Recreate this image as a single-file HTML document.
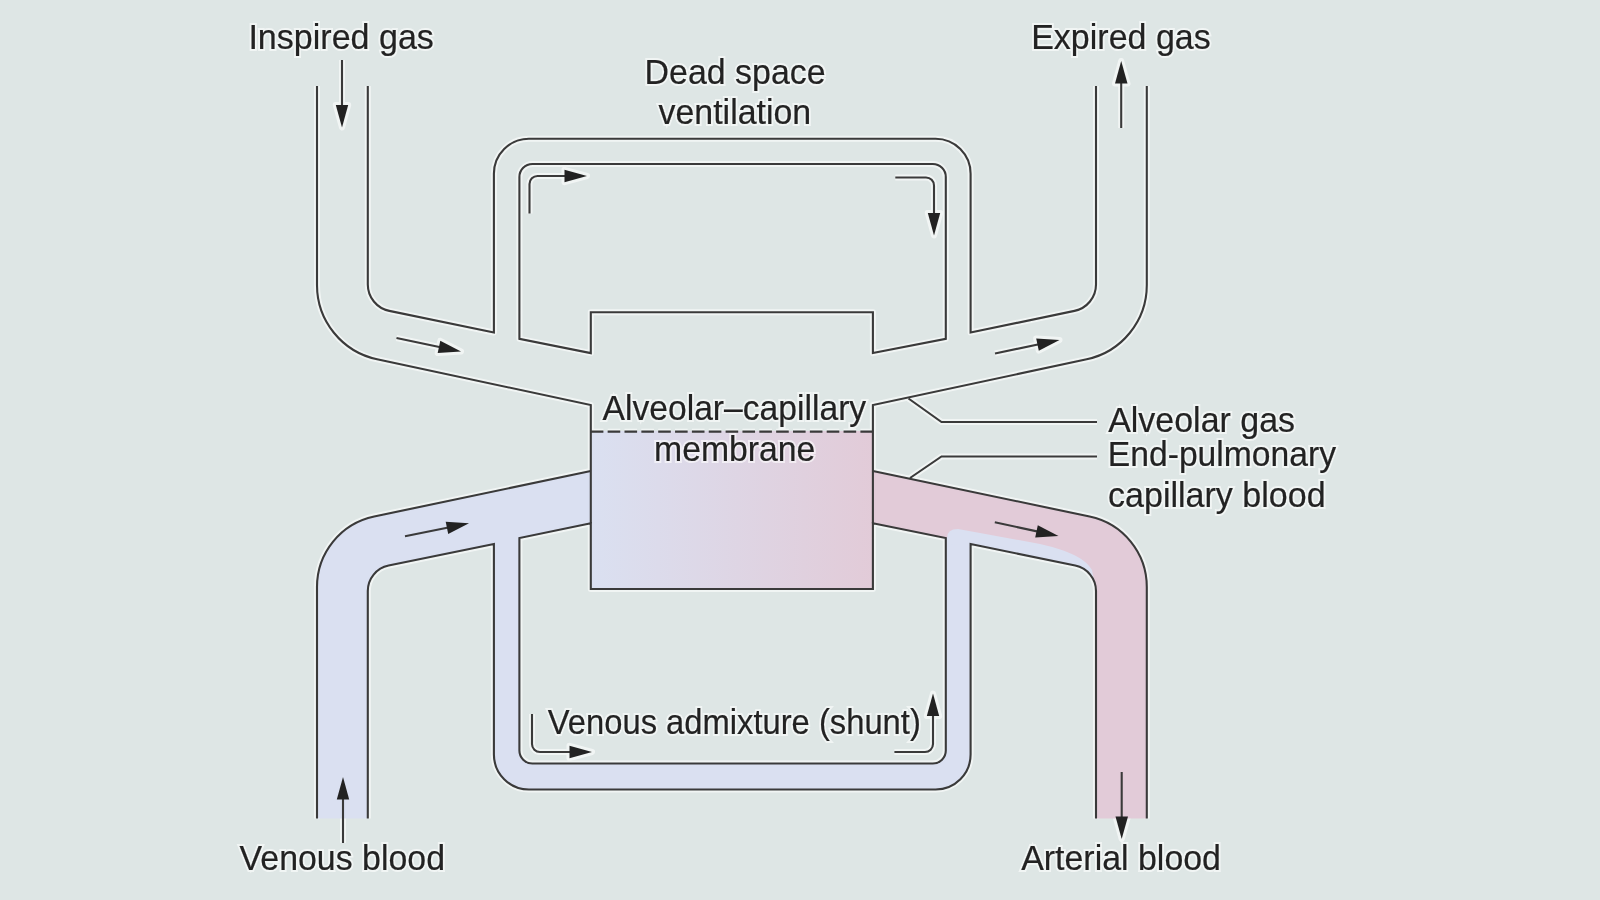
<!DOCTYPE html>
<html><head><meta charset="utf-8"><style>
html,body{margin:0;padding:0;background:#dee6e5;width:1600px;height:900px;overflow:hidden}
svg{display:block}
.halo{opacity:0.6} .halo path{stroke:#fff;stroke-width:6px;stroke-linejoin:round}
.th{opacity:0.6} .th text{stroke:#fff;stroke-width:4px}
text{font-family:"Liberation Sans",sans-serif;fill:#222;stroke:#222;stroke-width:0.2px}
</style></head><body>
<svg style="will-change:transform" width="1600" height="900" viewBox="0 0 1600 900">
<rect width="1600" height="900" fill="#dee6e5"/>
<g class="halo"><path d="M317.0,86 V285.0 A76.0 76.0 0 0 0 377.1,359.3 L590.8,405.0 V471" fill="none" stroke="#3a3a3a" stroke-width="2.1" stroke-linejoin="miter"/>
<path d="M1146.8,86 V285.0 A76.0 76.0 0 0 1 1086.7,359.3 L872.9,405.0 V471" fill="none" stroke="#3a3a3a" stroke-width="2.1" stroke-linejoin="miter"/>
<path d="M367.8,86 V284.5 A27.0 27.0 0 0 0 389.3,310.9 L493.9,332.5 V173.8 A35.0 35.0 0 0 1 528.9,138.8 H935.6 A35.0 35.0 0 0 1 970.6,173.8 V332.5 L1074.5,310.9 A27.0 27.0 0 0 0 1096.0,284.5 V86" fill="none" stroke="#3a3a3a" stroke-width="2.1" stroke-linejoin="miter"/>
<path d="M519.4,338.9 V177.0 A13.0 13.0 0 0 1 532.4,164.0 H932.8 A13.0 13.0 0 0 1 945.8,177.0 V338.9 L872.9,353.1 V312.3 H590.8 V353.1 Z" fill="none" stroke="#3a3a3a" stroke-width="2.1" stroke-linejoin="miter"/>
<path d="M317.0,818.5 V587.0 A72.0 72.0 0 0 1 374.2,516.5 L590.8,471.0" fill="none" stroke="#3a3a3a" stroke-width="2.1" stroke-linejoin="miter"/>
<path d="M1146.8,818.5 V587.0 A72.0 72.0 0 0 0 1089.6,516.5 L872.9,471.0" fill="none" stroke="#3a3a3a" stroke-width="2.1" stroke-linejoin="miter"/>
<path d="M367.8,818.5 V591.0 A26.0 26.0 0 0 1 388.6,565.5 L493.9,544.0 V754.5 A35.0 35.0 0 0 0 528.9,789.5 H935.6 A35.0 35.0 0 0 0 970.6,754.5 V544 L1075.2,565.5 A26.0 26.0 0 0 1 1096.0,591.0 V818.5" fill="none" stroke="#3a3a3a" stroke-width="2.1" stroke-linejoin="miter"/>
<path d="M519.4,538.0 V750.5 A13.0 13.0 0 0 0 532.4,763.5 H932.8 A13.0 13.0 0 0 0 945.8,750.5 V538.0 L872.9,523.3 V589.0 H590.8 V523.3 Z" fill="none" stroke="#3a3a3a" stroke-width="2.1" stroke-linejoin="miter"/>
<path d="M590.8,523.3 V471" fill="none" stroke="#3a3a3a" stroke-width="2.1" stroke-linejoin="miter"/>
<path d="M872.9,523.3 V471" fill="none" stroke="#3a3a3a" stroke-width="2.1" stroke-linejoin="miter"/>
<path d="M590.8,431.7 H872.9" stroke="#3a3a3a" stroke-width="2.2" stroke-dasharray="12.6,4.25"/>
<path d="M908.5,398.5 L941.5,422 H1097" fill="none" stroke="#3a3a3a" stroke-width="2.1" stroke-linejoin="miter"/>
<path d="M910,478 L941.5,456.5 H1097" fill="none" stroke="#3a3a3a" stroke-width="2.1" stroke-linejoin="miter"/>
<path d="M342,60 L342.0,109.0" stroke="#3a3a3a" stroke-width="2.1" fill="none"/><path d="M342.0,127.5 L335.8,105.0 L348.2,105.0 Z" fill="#222"/>
<path d="M1121.2,128 L1121.2,79.5" stroke="#3a3a3a" stroke-width="2.1" fill="none"/><path d="M1121.2,61.0 L1127.5,83.5 L1115.0,83.5 Z" fill="#222"/>
<path d="M343,843 L343.0,795.5" stroke="#3a3a3a" stroke-width="2.1" fill="none"/><path d="M343.0,777.0 L349.2,799.5 L336.8,799.5 Z" fill="#222"/>
<path d="M1121.7,772 L1121.7,820.5" stroke="#3a3a3a" stroke-width="2.1" fill="none"/><path d="M1121.7,839.0 L1115.5,816.5 L1128.0,816.5 Z" fill="#222"/>
<path d="M396.5,338 L442.9,347.7" stroke="#3a3a3a" stroke-width="2.1" fill="none"/><path d="M461.0,351.5 L437.7,353.0 L440.3,340.8 Z" fill="#222"/>
<path d="M995,353.5 L1041.4,343.8" stroke="#3a3a3a" stroke-width="2.1" fill="none"/><path d="M1059.5,340.0 L1038.8,350.7 L1036.2,338.5 Z" fill="#222"/>
<path d="M405,536.3 L450.9,527.0" stroke="#3a3a3a" stroke-width="2.1" fill="none"/><path d="M469.0,523.3 L448.2,533.9 L445.7,521.7 Z" fill="#222"/>
<path d="M994.8,522.3 L1040.4,532.1" stroke="#3a3a3a" stroke-width="2.1" fill="none"/><path d="M1058.5,536.0 L1035.2,537.4 L1037.8,525.2 Z" fill="#222"/>
<path d="M529.5,213.6 V184 A8 8 0 0 1 537.5,176 H570" fill="none" stroke="#3a3a3a" stroke-width="2.1"/>
<path d="M587.0,176.0 L564.5,182.2 L564.5,169.8 Z" fill="#222"/>
<path d="M895.3,177.5 H926 A8 8 0 0 1 934,185.5 V218" fill="none" stroke="#3a3a3a" stroke-width="2.1"/>
<path d="M934.0,235.4 L927.8,212.9 L940.2,212.9 Z" fill="#222"/>
<path d="M532,714 V744 A8 8 0 0 0 540,752 H575" fill="none" stroke="#3a3a3a" stroke-width="2.1"/>
<path d="M592.0,752.0 L569.5,758.2 L569.5,745.8 Z" fill="#222"/>
<path d="M894.4,752 H925 A8 8 0 0 0 933,744 V711" fill="none" stroke="#3a3a3a" stroke-width="2.1"/>
<path d="M933.0,693.6 L939.2,716.1 L926.8,716.1 Z" fill="#222"/></g>
<path d="M317.0,818.5 V587.0 A72.0 72.0 0 0 1 374.2,516.5 L590.8,471.0 V523.3 L519.4,538.0 V750.5 A13.0 13.0 0 0 0 532.4,763.5 H932.8 A13.0 13.0 0 0 0 945.8,750.5 V538.0 L970.6,544 V754.5 A35.0 35.0 0 0 1 935.6,789.5 H528.9 A35.0 35.0 0 0 1 493.9,754.5 V544.0 L388.6,565.5 A26.0 26.0 0 0 0 367.8,591.0 V818.5 Z" fill="#dae0f1"/>
<path d="M872.9,471 L1089.6,516.5 A72.0 72.0 0 0 1 1146.8,587.0 V818.5 H1096.0 V591.0 A26.0 26.0 0 0 0 1075.2,565.5 L970.6,544 L945.8,538.0 L872.9,523.3 Z" fill="#e2cbd8"/>
<path d="M947,545 V538 Q947,529 958,529 L980,533 L1040,544 C1062,549 1084,556 1092,570 L1096.0,591.0 A26.0 26.0 0 0 0 1075.2,565.5 L970.6,544 Z" fill="#dae0f1"/>
<defs><linearGradient id="g" x1="0" y1="0" x2="1" y2="0"><stop offset="0" stop-color="#dae0f1"/><stop offset="1" stop-color="#e2cbd8"/></linearGradient></defs>
<rect x="590.8" y="431" width="282.1" height="158.0" fill="url(#g)"/>
<path d="M317.0,86 V285.0 A76.0 76.0 0 0 0 377.1,359.3 L590.8,405.0 V471" fill="none" stroke="#3a3a3a" stroke-width="2.1" stroke-linejoin="miter"/>
<path d="M1146.8,86 V285.0 A76.0 76.0 0 0 1 1086.7,359.3 L872.9,405.0 V471" fill="none" stroke="#3a3a3a" stroke-width="2.1" stroke-linejoin="miter"/>
<path d="M367.8,86 V284.5 A27.0 27.0 0 0 0 389.3,310.9 L493.9,332.5 V173.8 A35.0 35.0 0 0 1 528.9,138.8 H935.6 A35.0 35.0 0 0 1 970.6,173.8 V332.5 L1074.5,310.9 A27.0 27.0 0 0 0 1096.0,284.5 V86" fill="none" stroke="#3a3a3a" stroke-width="2.1" stroke-linejoin="miter"/>
<path d="M519.4,338.9 V177.0 A13.0 13.0 0 0 1 532.4,164.0 H932.8 A13.0 13.0 0 0 1 945.8,177.0 V338.9 L872.9,353.1 V312.3 H590.8 V353.1 Z" fill="none" stroke="#3a3a3a" stroke-width="2.1" stroke-linejoin="miter"/>
<path d="M317.0,818.5 V587.0 A72.0 72.0 0 0 1 374.2,516.5 L590.8,471.0" fill="none" stroke="#3a3a3a" stroke-width="2.1" stroke-linejoin="miter"/>
<path d="M1146.8,818.5 V587.0 A72.0 72.0 0 0 0 1089.6,516.5 L872.9,471.0" fill="none" stroke="#3a3a3a" stroke-width="2.1" stroke-linejoin="miter"/>
<path d="M367.8,818.5 V591.0 A26.0 26.0 0 0 1 388.6,565.5 L493.9,544.0 V754.5 A35.0 35.0 0 0 0 528.9,789.5 H935.6 A35.0 35.0 0 0 0 970.6,754.5 V544 L1075.2,565.5 A26.0 26.0 0 0 1 1096.0,591.0 V818.5" fill="none" stroke="#3a3a3a" stroke-width="2.1" stroke-linejoin="miter"/>
<path d="M519.4,538.0 V750.5 A13.0 13.0 0 0 0 532.4,763.5 H932.8 A13.0 13.0 0 0 0 945.8,750.5 V538.0 L872.9,523.3 V589.0 H590.8 V523.3 Z" fill="none" stroke="#3a3a3a" stroke-width="2.1" stroke-linejoin="miter"/>
<path d="M590.8,523.3 V471" fill="none" stroke="#3a3a3a" stroke-width="2.1" stroke-linejoin="miter"/>
<path d="M872.9,523.3 V471" fill="none" stroke="#3a3a3a" stroke-width="2.1" stroke-linejoin="miter"/>
<path d="M590.8,431.7 H872.9" stroke="#3a3a3a" stroke-width="2.2" stroke-dasharray="12.6,4.25"/>
<path d="M908.5,398.5 L941.5,422 H1097" fill="none" stroke="#3a3a3a" stroke-width="2.1" stroke-linejoin="miter"/>
<path d="M910,478 L941.5,456.5 H1097" fill="none" stroke="#3a3a3a" stroke-width="2.1" stroke-linejoin="miter"/>
<path d="M342,60 L342.0,109.0" stroke="#3a3a3a" stroke-width="2.1" fill="none"/><path d="M342.0,127.5 L335.8,105.0 L348.2,105.0 Z" fill="#222"/>
<path d="M1121.2,128 L1121.2,79.5" stroke="#3a3a3a" stroke-width="2.1" fill="none"/><path d="M1121.2,61.0 L1127.5,83.5 L1115.0,83.5 Z" fill="#222"/>
<path d="M343,843 L343.0,795.5" stroke="#3a3a3a" stroke-width="2.1" fill="none"/><path d="M343.0,777.0 L349.2,799.5 L336.8,799.5 Z" fill="#222"/>
<path d="M1121.7,772 L1121.7,820.5" stroke="#3a3a3a" stroke-width="2.1" fill="none"/><path d="M1121.7,839.0 L1115.5,816.5 L1128.0,816.5 Z" fill="#222"/>
<path d="M396.5,338 L442.9,347.7" stroke="#3a3a3a" stroke-width="2.1" fill="none"/><path d="M461.0,351.5 L437.7,353.0 L440.3,340.8 Z" fill="#222"/>
<path d="M995,353.5 L1041.4,343.8" stroke="#3a3a3a" stroke-width="2.1" fill="none"/><path d="M1059.5,340.0 L1038.8,350.7 L1036.2,338.5 Z" fill="#222"/>
<path d="M405,536.3 L450.9,527.0" stroke="#3a3a3a" stroke-width="2.1" fill="none"/><path d="M469.0,523.3 L448.2,533.9 L445.7,521.7 Z" fill="#222"/>
<path d="M994.8,522.3 L1040.4,532.1" stroke="#3a3a3a" stroke-width="2.1" fill="none"/><path d="M1058.5,536.0 L1035.2,537.4 L1037.8,525.2 Z" fill="#222"/>
<path d="M529.5,213.6 V184 A8 8 0 0 1 537.5,176 H570" fill="none" stroke="#3a3a3a" stroke-width="2.1"/>
<path d="M587.0,176.0 L564.5,182.2 L564.5,169.8 Z" fill="#222"/>
<path d="M895.3,177.5 H926 A8 8 0 0 1 934,185.5 V218" fill="none" stroke="#3a3a3a" stroke-width="2.1"/>
<path d="M934.0,235.4 L927.8,212.9 L940.2,212.9 Z" fill="#222"/>
<path d="M532,714 V744 A8 8 0 0 0 540,752 H575" fill="none" stroke="#3a3a3a" stroke-width="2.1"/>
<path d="M592.0,752.0 L569.5,758.2 L569.5,745.8 Z" fill="#222"/>
<path d="M894.4,752 H925 A8 8 0 0 0 933,744 V711" fill="none" stroke="#3a3a3a" stroke-width="2.1"/>
<path d="M933.0,693.6 L939.2,716.1 L926.8,716.1 Z" fill="#222"/>
<g class="th"><text x="248.4" y="48.9" font-size="35" textLength="185.5" lengthAdjust="spacingAndGlyphs">Inspired gas</text>
<text x="1031.2" y="48.7" font-size="35" textLength="179.5" lengthAdjust="spacingAndGlyphs">Expired gas</text>
<text x="644.6" y="84.2" font-size="35" textLength="181.0" lengthAdjust="spacingAndGlyphs">Dead space</text>
<text x="658.5" y="124.2" font-size="35" textLength="152.7" lengthAdjust="spacingAndGlyphs">ventilation</text>
<text x="602.5" y="420.0" font-size="35" textLength="263.7" lengthAdjust="spacingAndGlyphs">Alveolar–capillary</text>
<text x="654.0" y="460.6" font-size="35" textLength="161.4" lengthAdjust="spacingAndGlyphs">membrane</text>
<text x="1108.2" y="431.6" font-size="35" textLength="186.8" lengthAdjust="spacingAndGlyphs">Alveolar gas</text>
<text x="1107.8" y="466.2" font-size="35" textLength="228.2" lengthAdjust="spacingAndGlyphs">End-pulmonary</text>
<text x="1108.0" y="506.7" font-size="35" textLength="217.6" lengthAdjust="spacingAndGlyphs">capillary blood</text>
<text x="547.8" y="734.0" font-size="35" textLength="373.0" lengthAdjust="spacingAndGlyphs">Venous admixture (shunt)</text>
<text x="239.6" y="870.0" font-size="35" textLength="205.4" lengthAdjust="spacingAndGlyphs">Venous blood</text>
<text x="1021.2" y="870.0" font-size="35" textLength="199.8" lengthAdjust="spacingAndGlyphs">Arterial blood</text></g>
<text x="248.4" y="48.9" font-size="35" textLength="185.5" lengthAdjust="spacingAndGlyphs">Inspired gas</text>
<text x="1031.2" y="48.7" font-size="35" textLength="179.5" lengthAdjust="spacingAndGlyphs">Expired gas</text>
<text x="644.6" y="84.2" font-size="35" textLength="181.0" lengthAdjust="spacingAndGlyphs">Dead space</text>
<text x="658.5" y="124.2" font-size="35" textLength="152.7" lengthAdjust="spacingAndGlyphs">ventilation</text>
<text x="602.5" y="420.0" font-size="35" textLength="263.7" lengthAdjust="spacingAndGlyphs">Alveolar–capillary</text>
<text x="654.0" y="460.6" font-size="35" textLength="161.4" lengthAdjust="spacingAndGlyphs">membrane</text>
<text x="1108.2" y="431.6" font-size="35" textLength="186.8" lengthAdjust="spacingAndGlyphs">Alveolar gas</text>
<text x="1107.8" y="466.2" font-size="35" textLength="228.2" lengthAdjust="spacingAndGlyphs">End-pulmonary</text>
<text x="1108.0" y="506.7" font-size="35" textLength="217.6" lengthAdjust="spacingAndGlyphs">capillary blood</text>
<text x="547.8" y="734.0" font-size="35" textLength="373.0" lengthAdjust="spacingAndGlyphs">Venous admixture (shunt)</text>
<text x="239.6" y="870.0" font-size="35" textLength="205.4" lengthAdjust="spacingAndGlyphs">Venous blood</text>
<text x="1021.2" y="870.0" font-size="35" textLength="199.8" lengthAdjust="spacingAndGlyphs">Arterial blood</text>
</svg>
</body></html>
